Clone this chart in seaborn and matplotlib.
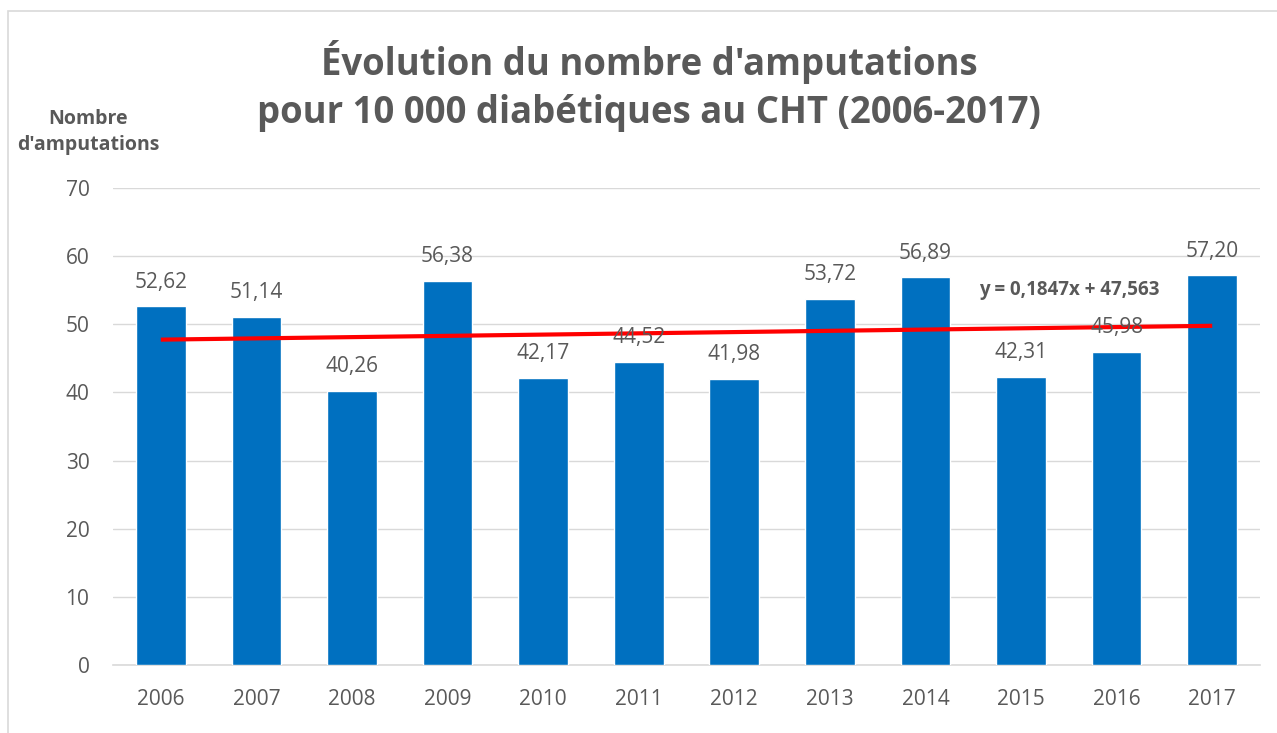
import numpy as np
import pandas as pd
import matplotlib
matplotlib.use("Agg")
import matplotlib.pyplot as plt
import seaborn as sns
from matplotlib.patches import Rectangle

# ==================== DATA ====================
years = ["2006", "2007", "2008", "2009", "2010", "2011",
         "2012", "2013", "2014", "2015", "2016", "2017"]
amputations = [52.62, 51.14, 40.26, 56.38, 42.17, 44.52,
               41.98, 53.72, 56.89, 42.31, 45.98, 57.20]
trend_slope = 0.1847
trend_intercept = 47.563
y_ticks = [0, 10, 20, 30, 40, 50, 60, 70]

TITLE = "Évolution du nombre d'amputations\npour 10 000 diabétiques au CHT (2006-2017)"
YLABEL = "Nombre\nd'amputations"

BAR_COLOR = "#0070C0"
TEXT_GRAY = "#595959"
GRID_GRAY = "#D9D9D9"

# ==================== PLOT ====================
sns.set_theme(style="white")
plt.rcParams["font.family"] = ["Open Sans", "DejaVu Sans"]

df = pd.DataFrame({"year": years, "value": amputations})

fig = plt.figure(figsize=(12.77, 7.33), dpi=100)
ax = fig.add_axes([0.0885, 0.0928, 0.8982, 0.6507])

sns.barplot(data=df, x="year", y="value", color=BAR_COLOR, width=0.52,
            saturation=1, ax=ax, zorder=3)

# linear trend (Excel-style, x = 1..n)
xs = np.arange(1, len(years) + 1)
trend = trend_slope * xs + trend_intercept
ax.plot(xs - 1, trend, color="#FF0000", lw=3, zorder=5, solid_capstyle="butt")

# value labels
for i, v in enumerate(amputations):
    ax.text(i, v + 2.0, f"{v:.2f}".replace(".", ","), ha="center", va="bottom",
            fontsize=15, color=TEXT_GRAY, zorder=6)

ax.text(9.5, 55.0, f"y = {trend_slope}x + {trend_intercept}".replace(".", ","),
        ha="center", va="center", fontsize=13.5, fontweight="bold",
        color=TEXT_GRAY, zorder=6)

ax.set_xlim(-0.5, len(years) - 0.5)
ax.set_ylim(0, 70)
ax.set_yticks(y_ticks)
ax.yaxis.grid(True, color=GRID_GRAY, lw=1, zorder=0)
ax.set_axisbelow(True)
for side in ["top", "right", "left"]:
    ax.spines[side].set_visible(False)
ax.spines["bottom"].set_color(GRID_GRAY)
ax.spines["bottom"].set_linewidth(1.2)
ax.tick_params(axis="both", length=0, labelsize=15, labelcolor=TEXT_GRAY)
ax.tick_params(axis="y", pad=17)
ax.tick_params(axis="x", pad=17)
ax.set_xlabel("")
ax.set_ylabel("")

fig.text(649 / 1277, 1 - 86 / 733, TITLE, ha="center", va="center", fontsize=26.3,
         fontweight="bold", color=TEXT_GRAY, linespacing=1.35)
fig.text(88 / 1277, 1 - 132 / 733, YLABEL, ha="center", va="center",
         fontsize=14, fontweight="bold", color=TEXT_GRAY, linespacing=1.4)

# chart area border
fig.add_artist(Rectangle((8 / 1277, -0.1), 1.2, 1 - 11 / 733 + 0.1,
                         transform=fig.transFigure, fill=False,
                         edgecolor=GRID_GRAY, lw=1.2))

fig.savefig("out.png", dpi=100)
plt.close(fig)
